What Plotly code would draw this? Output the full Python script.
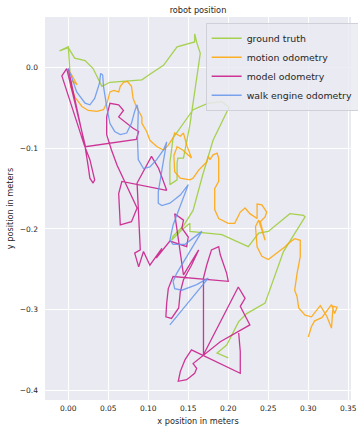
import plotly.graph_objects as go

# ground truth
gt_x = [0.002, 0.000, -0.011, -0.006, 0.000, 0.008, 0.021, 0.031, 0.042, 0.052, 0.073, 0.092, 0.102,
        0.119, 0.136, 0.158, 0.158, 0.161, 0.165, 0.152, 0.144, 0.137, 0.136, 0.136, 0.127, 0.127,
        0.131, 0.156, 0.175, 0.192, 0.201, 0.181, 0.168, 0.156, 0.144, 0.131, 0.129, 0.142, 0.152,
        0.152, 0.192, 0.208, 0.225, 0.238, 0.250, 0.277, 0.294, 0.296, 0.275, 0.269, 0.246, 0.223,
        0.213, 0.198, 0.186, 0.200]
gt_y = [-0.004, 0.026, 0.021, 0.023, 0.025, 0.012, 0.009, -0.001, -0.023, -0.018, -0.016, -0.015, -0.008,
        0.003, 0.026, 0.032, 0.042, 0.030, 0.018, -0.071, -0.112, -0.112, -0.118, -0.139, -0.145, -0.118,
        -0.087, -0.052, -0.044, -0.042, -0.049, -0.090, -0.133, -0.177, -0.196, -0.209, -0.214, -0.201, -0.193,
        -0.203, -0.207, -0.214, -0.222, -0.205, -0.203, -0.181, -0.183, -0.185, -0.218, -0.228, -0.292, -0.305,
        -0.315, -0.344, -0.354, -0.360]

# motion odometry
mo_x = [0.001, 0.011, 0.005, 0.003, 0.008, 0.017, 0.025, 0.036, 0.044, 0.049, 0.052, 0.057, 0.063, 0.065,
        0.069, 0.074, 0.079, 0.081, 0.085, 0.092, 0.092, 0.098, 0.102, 0.111, 0.119, 0.125, 0.131, 0.133,
        0.140, 0.144, 0.148, 0.154, 0.143, 0.136, 0.132, 0.133, 0.140, 0.152, 0.156, 0.163, 0.173, 0.175,
        0.177, 0.181, 0.186, 0.188, 0.188, 0.183, 0.183, 0.188, 0.200, 0.208, 0.215, 0.221, 0.227, 0.236,
        0.236, 0.242, 0.248, 0.246, 0.240, 0.246, 0.238, 0.234, 0.236, 0.242, 0.250, 0.258, 0.271, 0.275,
        0.283, 0.290, 0.290, 0.286, 0.283, 0.286, 0.288, 0.296, 0.304, 0.315, 0.323, 0.329, 0.331, 0.336,
        0.333, 0.329, 0.317, 0.308, 0.304, 0.300]
mo_y = [-0.003, -0.021, -0.016, -0.023, -0.036, -0.048, -0.053, -0.054, -0.052, -0.042, -0.030, -0.028,
        -0.030, -0.023, -0.018, -0.017, -0.023, -0.038, -0.048, -0.061, -0.069, -0.079, -0.090, -0.098,
        -0.102, -0.096, -0.087, -0.081, -0.085, -0.081, -0.096, -0.112, -0.102, -0.098, -0.109, -0.129,
        -0.137, -0.139, -0.137, -0.127, -0.117, -0.110, -0.114, -0.108, -0.106, -0.112, -0.141, -0.150,
        -0.176, -0.187, -0.193, -0.193, -0.179, -0.174, -0.181, -0.187, -0.169, -0.170, -0.179, -0.185,
        -0.191, -0.214, -0.189, -0.197, -0.222, -0.234, -0.238, -0.232, -0.222, -0.218, -0.212, -0.214,
        -0.234, -0.255, -0.276, -0.284, -0.298, -0.307, -0.309, -0.295, -0.308, -0.323, -0.296, -0.297,
        -0.305, -0.294, -0.310, -0.314, -0.321, -0.334]

# model odometry
md_x = [0.000, 0.021, 0.025, 0.027, 0.031, 0.033, 0.027, 0.020, -0.008, -0.002, 0.0215, 0.085, 0.088,
        0.081, 0.063, 0.069, 0.063, 0.052, 0.048, 0.048, 0.054, 0.061, 0.086, 0.079, 0.065, 0.063, 0.067,
        0.123, 0.113, 0.104, 0.086, 0.090, 0.083, 0.088, 0.094, 0.102, 0.117, 0.110, 0.127, 0.148, 0.150,
        0.142, 0.144, 0.133, 0.144, 0.163, 0.154, 0.144, 0.140, 0.138, 0.129, 0.122, 0.123, 0.125, 0.131,
        0.200, 0.198, 0.190, 0.188, 0.179, 0.173, 0.169, 0.169, 0.2125, 0.221, 0.215, 0.227, 0.2125, 0.190,
        0.156, 0.1605, 0.158, 0.148, 0.1375, 0.140, 0.146, 0.154, 0.215, 0.215, 0.213]
md_y = [-0.001, -0.098, -0.123, -0.137, -0.143, -0.139, -0.114, -0.096, -0.010, -0.001, -0.098, -0.089,
        -0.079, -0.075, -0.061, -0.053, -0.046, -0.044, -0.061, -0.083, -0.102, -0.121, -0.174, -0.191,
        -0.195, -0.156, -0.141, -0.152, -0.125, -0.110, -0.143, -0.226, -0.230, -0.247, -0.228, -0.245,
        -0.224, -0.236, -0.215, -0.222, -0.210, -0.199, -0.189, -0.181, -0.257, -0.226, -0.245, -0.263,
        -0.278, -0.298, -0.311, -0.309, -0.292, -0.274, -0.259, -0.265, -0.255, -0.232, -0.222, -0.226,
        -0.245, -0.261, -0.356, -0.272, -0.286, -0.296, -0.319, -0.327, -0.340, -0.367, -0.373, -0.379,
        -0.387, -0.389, -0.377, -0.362, -0.350, -0.379, -0.352, -0.329]

# walk engine odometry
we_x = [0.000, 0.004, 0.0105, 0.021, 0.027, 0.033, 0.039, 0.0405, 0.043, 0.044, 0.048, 0.052, 0.058,
        0.065, 0.073, 0.079, 0.083, 0.086, 0.0875, 0.0865, 0.0875, 0.094, 0.102, 0.1105, 0.119, 0.123,
        0.117, 0.1125, 0.1125, 0.117, 0.127, 0.140, 0.150, 0.131, 0.127, 0.131, 0.146, 0.167, 0.1355,
        0.131, 0.133, 0.142, 0.1605, 0.175, 0.127]
we_y = [-0.001, -0.011, -0.030, -0.044, -0.046, -0.038, -0.019, -0.007, -0.009, -0.023, -0.048, -0.069,
        -0.079, -0.083, -0.081, -0.069, -0.054, -0.046, -0.054, -0.090, -0.114, -0.125, -0.123, -0.114,
        -0.102, -0.092, -0.127, -0.154, -0.168, -0.171, -0.168, -0.158, -0.145, -0.195, -0.214, -0.219,
        -0.219, -0.203, -0.255, -0.265, -0.274, -0.276, -0.269, -0.261, -0.319]

series = [
    ("ground truth", gt_x, gt_y, "rgba(154,205,50,0.85)"),
    ("motion odometry", mo_x, mo_y, "rgba(255,165,0,0.85)"),
    ("model odometry", md_x, md_y, "rgba(199,21,133,0.85)"),
    ("walk engine odometry", we_x, we_y, "rgba(100,149,237,0.85)"),
]

x_ticks = [0.00, 0.05, 0.10, 0.15, 0.20, 0.25, 0.30, 0.35]
y_ticks = [0.0, -0.1, -0.2, -0.3, -0.4]

fig = go.Figure()
for name, xs, ys, col in series:
    fig.add_trace(go.Scatter(x=xs, y=ys, mode="lines", name=name,
                             line=dict(color=col, width=1.3)))

txt = "#262626"
fig.update_layout(
    width=358, height=426,
    margin=dict(l=45, r=7, t=17, b=26, autoexpand=False),
    paper_bgcolor="white",
    plot_bgcolor="#EAEAF2",
    font=dict(family="DejaVu Sans", color=txt, size=8),
    title=dict(text="robot position", x=0.5, xref="paper", y=1 - 10 / 426, yref="container",
               xanchor="center", yanchor="middle", font=dict(size=8.2, color=txt)),
    legend=dict(x=0.525, y=0.985, xanchor="left", yanchor="top",
                bgcolor="rgba(234,234,242,0.85)", bordercolor="#d0d0d8", borderwidth=1,
                font=dict(size=9.4, color=txt)),
    xaxis=dict(range=[-0.0291, 0.3534], tickvals=x_ticks, tickformat=".2f", automargin=False,
               showgrid=True, gridcolor="white", gridwidth=1, zeroline=False, showline=False,
               ticks="", tickfont=dict(size=7.5, color=txt), ticklabelstandoff=2,
               title=dict(text="x position in meters", font=dict(size=8.2, color=txt))),
    yaxis=dict(range=[-0.4122, 0.0630], tickvals=y_ticks, tickformat=".1f", automargin=False,
               showgrid=True, gridcolor="white", gridwidth=1, zeroline=False, showline=False,
               ticks="", tickfont=dict(size=7.5, color=txt), ticklabelstandoff=6,
               title=dict(text="y position in meters", font=dict(size=8.2, color=txt), standoff=4)),
)

fig.write_html("out.html")
